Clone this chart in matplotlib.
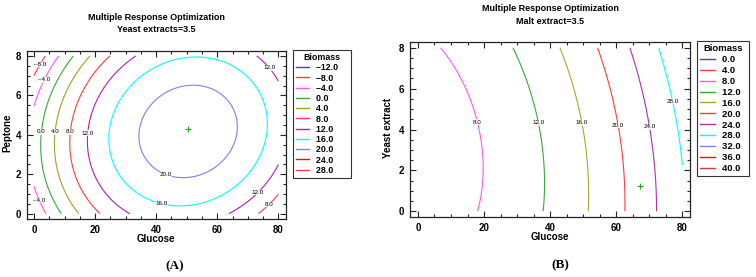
import numpy as np
import matplotlib
matplotlib.use("Agg")
import matplotlib.pyplot as plt
from matplotlib.lines import Line2D
from matplotlib.ticker import MultipleLocator

# Fitted quadratic response-surface coefficients: b0, b1*x, b2*y, b11*x^2, b22*y^2, b12*x*y
coef_A = [-7.50617, 0.928566, 3.16212, -0.00976762, -0.461539, 0.0136428]   # Glucose x Peptone
coef_B = [6.23171, 0.0487052, -0.336067, 0.0027358, 0.0585612, 0.00457098]  # Glucose x Yeast extract

levels_A = [-12, -8, -4, 0, 4, 8, 12, 16, 20, 24, 28]
colors_A = ['#3c3cff', '#ff3c3c', '#ff55ff', '#3aa83a', '#a0a02a', '#ff3c3c',
            '#b020b0', '#00ffff', '#8080e8', '#c02020', '#ff3c3c']
levels_B = [0, 4, 8, 12, 16, 20, 24, 28, 32, 36, 40]
colors_B = ['#3c3cff', '#ff3c3c', '#ff55ff', '#3aa83a', '#a8a830', '#ff3c3c',
            '#b030b0', '#00ffff', '#8080e8', '#c02020', '#d04040']

# contour label anchor points (x, y)
labpos_A = [(1.7, 7.6), (3.1, 6.8), (1.7, 0.66), (2.5, 4.15), (6.9, 4.15), (11.8, 4.15),
            (17.6, 4.08), (43.4, 2.05), (41.8, 0.52), (77.0, 7.4), (73.3, 1.07), (76.9, 0.46)]
labpos_B = [(18.5, 4.38), (36.6, 4.33), (49.7, 4.33), (60.8, 4.19), (70.3, 4.14), (77.2, 5.39)]

optimum_A = (50.3, 4.31)
optimum_B = (67.2, 1.24)

titles_A = ["Multiple Response Optimization", "Yeast extracts=3.5"]
titles_B = ["Multiple Response Optimization", "Malt extract=3.5"]

plt.rcParams['font.family'] = ['Liberation Sans', 'DejaVu Sans']

W, H = 756, 277
fig = plt.figure(figsize=(W/100, H/100), dpi=100)

def fx(px): return px / W
def fy(py): return 1 - py / H

axA = fig.add_axes([fx(27), fy(219), (286-27)/W, (219-51)/H])
axB = fig.add_axes([fx(410), fy(217), (690-410)/W, (217-42)/H])

xs = np.linspace(0, 80, 400)
ys = np.linspace(0, 8, 400)
X, Y = np.meshgrid(xs, ys)

def model(c, X, Y):
    return c[0] + c[1]*X + c[2]*Y + c[3]*X*X + c[4]*Y*Y + c[5]*X*Y

def lab(v):
    return f"{v:.1f}".replace('-', '\u2013')

for ax, c, lev, col, lp, opt in [(axA, coef_A, levels_A, colors_A, labpos_A, optimum_A),
                                 (axB, coef_B, levels_B, colors_B, labpos_B, optimum_B)]:
    Z = model(c, X, Y)
    cs = ax.contour(X, Y, Z, levels=lev, colors=col, linewidths=0.8)
    texts = ax.clabel(cs, manual=lp, fmt=lambda v: lab(v), fontsize=4.5, colors='black',
                      inline=False)
    for t in texts:
        t.set_rotation(0)
        t.set_bbox(dict(facecolor='white', edgecolor='none', pad=0.2, alpha=0.85))
    ax.plot([opt[0]], [opt[1]], marker='+', color='#22aa22', ms=4, mew=0.8, ls='none')
    ax.xaxis.set_major_locator(MultipleLocator(20))
    ax.xaxis.set_minor_locator(MultipleLocator(5))
    ax.yaxis.set_major_locator(MultipleLocator(2))
    ax.yaxis.set_minor_locator(MultipleLocator(0.5))
    ax.tick_params(which='both', direction='in', top=True, right=True, width=0.8, color='#222222')
    ax.tick_params(which='major', length=4, labelsize=7, pad=4)
    ax.tick_params(which='minor', length=2)
    for t in ax.get_xticklabels() + ax.get_yticklabels():
        t.set_fontweight('bold')
    for s in ax.spines.values():
        s.set_linewidth(0.9)
        s.set_color('#222222')

axA.set_xlim(-2.3, 82.5); axA.set_ylim(-0.27, 8.25)
axB.set_xlim(-2.4, 82.3); axB.set_ylim(-0.28, 8.28)

# titles
tkw = dict(ha='center', va='center', fontsize=6.5, fontweight='bold')
fig.text(fx(156), fy(17.3), titles_A[0], **tkw)
fig.text(fx(156), fy(29.3), titles_A[1], **tkw)
fig.text(fx(550), fy(8.5), titles_B[0], **tkw)
fig.text(fx(550), fy(21), titles_B[1], **tkw)

# axis labels
lkw = dict(ha='center', va='center', fontsize=7, fontweight='bold')
fig.text(fx(156), fy(239), "Glucose", **lkw)
fig.text(fx(550), fy(237), "Glucose", **lkw)
fig.text(fx(7.5), fy(133), "Peptone", rotation=90, **lkw)
fig.text(fx(388), fy(128), "Yeast extract", rotation=90, **lkw)

# panel labels
pkw = dict(ha='center', va='center', fontsize=9.5, fontweight='bold', family='Liberation Serif')
fig.text(fx(175), fy(266), "(A)", **pkw)
fig.text(fx(560), fy(265), "(B)", **pkw)

# legends
def make_legend(levels, colors, x0, y0, size, pad_label, hl, ls):
    handles = [Line2D([], [], color=c, lw=1.0) for c in colors]
    labels = [lab(v) + pad_label for v in levels]
    leg = fig.legend(handles, labels, loc='upper left', bbox_to_anchor=(fx(x0), fy(y0)),
                     borderaxespad=0, title='Biomass',
                     prop={'weight': 'bold', 'size': size},
                     title_fontproperties={'weight': 'bold', 'size': size},
                     frameon=True, fancybox=False, edgecolor='#333333', framealpha=1,
                     handlelength=hl, handletextpad=0.7, labelspacing=ls,
                     borderpad=0.35)
    leg.get_frame().set_linewidth(0.8)
    return leg

make_legend(levels_A, colors_A, 293, 50, 6.4, "    ", 1.5, 0.14)
make_legend(levels_B, colors_B, 697, 41, 6.8, "  ", 1.6, 0.2)

fig.savefig("out.png", dpi=100)
